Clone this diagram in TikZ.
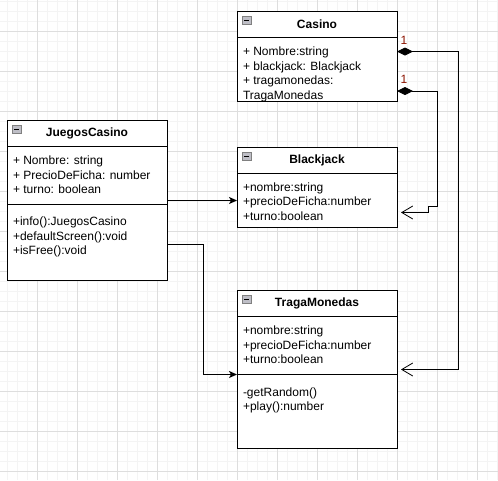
\documentclass[tikz,border=0pt]{standalone}
\usepackage{fontspec}
\setmainfont{Liberation Sans}
\usetikzlibrary{arrows.meta}
\usetikzlibrary{calc,positioning}
\definecolor{multcol}{RGB}{140,20,0}
\definecolor{minorgrid}{RGB}{244,244,244}
\definecolor{majorgrid}{RGB}{222,222,222}
\newcommand{\members}[3]{\parbox[t][#1pt][t]{148pt}{\raggedright\rule{0pt}{#2pt}#3}}

\begin{document}
\begin{tikzpicture}[x=1pt,y=-1pt,
  txt/.style={font=\fontsize{12}{14.5}\selectfont},
  clshead/.style={draw,fill=white,line width=1pt,minimum width=160pt,minimum height=26pt,
    inner sep=0pt,outer sep=0pt,anchor=north west,font=\fontsize{12}{14.5}\selectfont\bfseries},
  clsbody/.style={txt,draw,fill=white,line width=1pt,minimum width=160pt,
    inner xsep=6pt,inner ysep=0pt,outer sep=0pt},
  iconbox/.style={draw=gray,fill={rgb,255:red,190;green,190;blue,198},line width=.6pt},
  assoc/.style={line width=1pt,-{Stealth[length=8pt,width=7pt,inset=2pt]}},
  comp/.style={line width=1pt,{Diamond[length=16pt,width=8pt]}-{Straight Barb[length=11pt,width=13pt,line width=.8pt]}},
  mult/.style={txt,text=multcol,anchor=base west,inner sep=0pt,xshift=3pt,yshift=7.5pt}]
\useasboundingbox (0,0) rectangle (498,480);
\fill[white] (0,0) rectangle (498,480);
% grid
\foreach \x in {7,17,...,497} {
 \draw[minorgrid] (\x,0) -- (\x,480);
}
\foreach \y in {1,11,...,471} {
 \draw[minorgrid] (0,\y) -- (498,\y);
}
\foreach \x in {37,77,...,477} {
 \draw[majorgrid] (\x,0) -- (\x,480);
}
\foreach \y in {31,71,...,471} {
 \draw[majorgrid] (0,\y) -- (498,\y);
}

% classes
\node[clshead] (casino) at (237,11.5) {Casino};
\node[clsbody,below=0pt of casino] (casinoAttr) {\members{63.5}{18}{+ Nombre:string\\+ blackjack: Blackjack\\+ tragamonedas:\\TragaMonedas}};

\node[clshead] (blackjack) at (237,147.5) {Blackjack};
\node[clsbody,below=0pt of blackjack] (blackjackAttr) {\members{54}{17.5}{+nombre:string\\+precioDeFicha:number\\+turno:boolean}};

\node[clshead] (juegos) at (7,120.5) {JuegosCasino};
\node[clsbody,below=0pt of juegos] (juegosAttr) {\members{58}{18.3}{+ Nombre: string\\+ PrecioDeFicha: number\\+ turno: boolean}};
\node[clsbody,below=0pt of juegosAttr] (juegosOps) {\members{76}{21}{+info():JuegosCasino\\+defaultScreen():void\\+isFree():void}};

\node[clshead] (traga) at (237,290.5) {TragaMonedas};
\node[clsbody,below=0pt of traga] (tragaAttr) {\members{58}{18.3}{+nombre:string\\+precioDeFicha:number\\+turno:boolean}};
\node[clsbody,below=0pt of tragaAttr] (tragaOps) {\members{74}{21.5}{-getRandom()\\+play():number}};

\foreach \c in {casino,blackjack,juegos,traga} {
 \draw[iconbox] ($(\c.north west)+(5,5)$) rectangle ++(9,8);
 \draw[line width=1pt] ($(\c.north west)+(7,9)$) -- ++(5,0);
}

% connectors
\coordinate (tragaEnd) at ($(tragaAttr.south east)+(4,-5)$);
\coordinate (bjEnd) at ($(blackjackAttr.south east)+(4,-15)$);
\draw[comp] ($(casinoAttr.north east)+(0,14)$) node[mult] (multA) {1} -- ++(61,0) |- (tragaEnd);
\draw[comp] ($(casinoAttr.south east)+(0,-10)$) node[mult] (multB) {1} -- ++(40,0) -- ++(0,115) -- ++(-9,0) |- (bjEnd);
\draw[assoc] (juegosAttr.east |- blackjackAttr.west) -- (blackjackAttr.west);
\draw[assoc] ($(juegosOps.north east)+(0,40)$) -- ++(36,0) |- (tragaOps.north west);
\end{tikzpicture}
\end{document}
